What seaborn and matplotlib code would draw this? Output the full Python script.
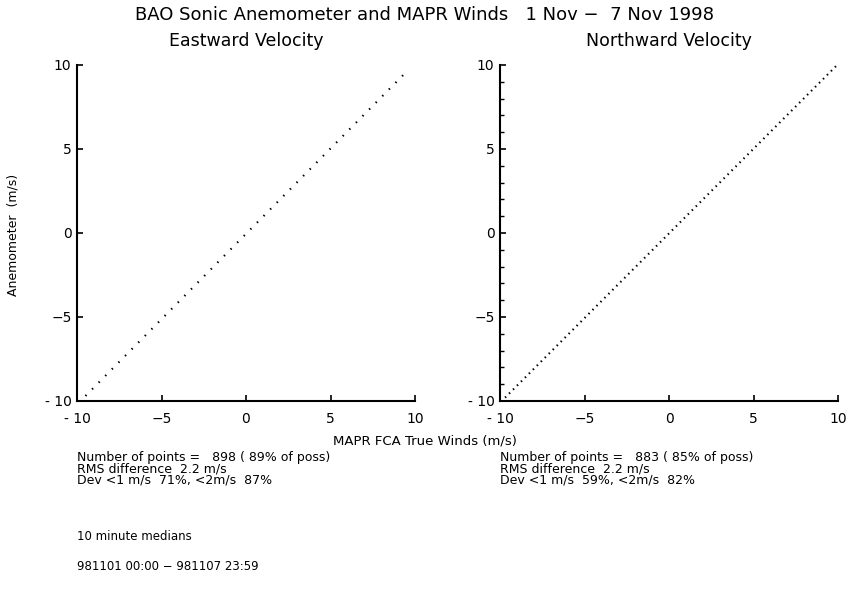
import matplotlib
matplotlib.use("Agg")
import matplotlib.pyplot as plt
import numpy as np
import seaborn as sns
from matplotlib.ticker import MultipleLocator

# 1:1 reference lines as drawn in each panel (MAPR vs anemometer, m/s)
east_mapr = [-9.5, 9.4]
east_anem = [-9.7, 9.5]
north_mapr = [-9.7, 9.9]
north_anem = [-9.8, 9.95]

panel_titles = ["Eastward Velocity", "Northward Velocity"]
ticks = [-10, -5, 0, 5, 10]
tick_labels = ["- 10", "\u22125", "0", "5", "10"]

stats_east = ["Number of points =   898 ( 89% of poss)",
              "RMS difference  2.2 m/s",
              "Dev <1 m/s  71%, <2m/s  87%"]
stats_north = ["Number of points =   883 ( 85% of poss)",
               "RMS difference  2.2 m/s",
               "Dev <1 m/s  59%, <2m/s  82%"]

suptitle = "BAO Sonic Anemometer and MAPR Winds   1 Nov \u2212  7 Nov 1998"
xlabel = "MAPR FCA True Winds (m/s)"
ylabel = "Anemometer  (m/s)"
footer = ["10 minute medians", "981101 00:00 \u2212 981107 23:59"]

sns.set_style("ticks")
plt.rcParams["font.family"] = ["DejaVu Sans"]
plt.rcParams["text.color"] = "black"
plt.rcParams["xtick.color"] = "black"
plt.rcParams["ytick.color"] = "black"

W, H = 848, 605
fig = plt.figure(figsize=(W / 100, H / 100), dpi=100)

ax_l = fig.add_axes([77 / W, 1 - 401 / H, 338 / W, 336 / H])
ax_r = fig.add_axes([500 / W, 1 - 401 / H, 338 / W, 336 / H])

sns.lineplot(x=east_mapr, y=east_anem, ax=ax_l, color="black", lw=1.5,
             linestyle=(0, (0.7, 3.8)))
sns.lineplot(x=north_mapr, y=north_anem, ax=ax_r, color="black", lw=1.5,
             linestyle=(0, (0.7, 2.0)))

for i, (ax, title) in enumerate(zip([ax_l, ax_r], panel_titles)):
    ax.set_xlim(-10, 10)
    ax.set_ylim(-10, 10)
    ax.set_xticks(ticks)
    ax.set_yticks(ticks)
    ax.set_xticklabels(tick_labels, fontsize=10)
    ax.set_yticklabels(tick_labels, fontsize=10)
    for side in ["top", "right"]:
        ax.spines[side].set_visible(False)
    for side in ["left", "bottom"]:
        ax.spines[side].set_linewidth(1.5)
        ax.spines[side].set_color("black")
    ax.tick_params(axis="x", direction="in", length=4, width=1.2, pad=8)
    ax.tick_params(axis="y", direction="in", length=4, width=1.2, pad=4)
    if i == 1:
        ax.yaxis.set_minor_locator(MultipleLocator(1))
        ax.tick_params(axis="y", which="minor", direction="in", length=3,
                       width=1.0)
    ax.set_title(title, fontsize=12.5, pad=14, color="black")
    ax.set_xlabel("")
    ax.set_ylabel("")

fig.text(425 / W, 1 - 15 / H, suptitle, ha="center", va="center", fontsize=13)
fig.text(425 / W, 1 - 441 / H, xlabel, ha="center", va="center", fontsize=9.5)
fig.text(13 / W, 1 - 235 / H, ylabel, ha="center", va="center",
         rotation=90, fontsize=9)

line_gap = 11.5
for x0, lines in [(77, stats_east), (500, stats_north)]:
    for k, s in enumerate(lines):
        fig.text(x0 / W, 1 - (457 + k * line_gap) / H, s, ha="left",
                 va="center", fontsize=9)

fig.text(77 / W, 1 - 537 / H, footer[0], ha="left", va="center", fontsize=8.5)
fig.text(77 / W, 1 - 566 / H, footer[1], ha="left", va="center", fontsize=8.5)

fig.savefig("out.png", dpi=100, facecolor="white")
